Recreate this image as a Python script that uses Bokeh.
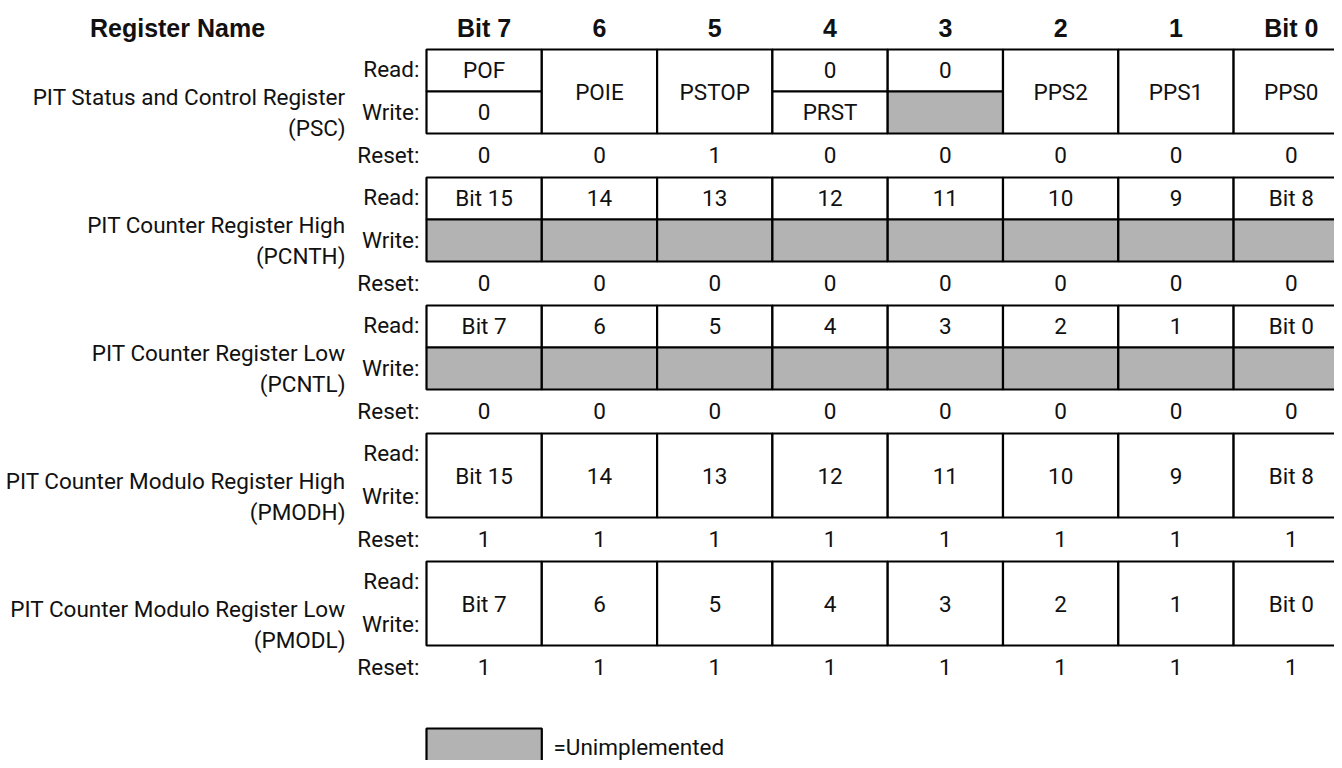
from bokeh.plotting import figure
from bokeh.models import Range1d, ColumnDataSource
from bokeh.core.properties import value
from bokeh.embed import file_html
from bokeh.resources import INLINE

# ---------------- data ----------------
bit_headers = ["Bit 7", "6", "5", "4", "3", "2", "1", "Bit 0"]
register_names = [
    "PIT Status and Control Register",
    "PIT Counter Register High",
    "PIT Counter Register Low",
    "PIT Counter Modulo Register High",
    "PIT Counter Modulo Register Low",
]
register_abbrevs = ["(PSC)", "(PCNTH)", "(PCNTL)", "(PMODH)", "(PMODL)"]

# read / write contents per bit (Bit 7 .. Bit 0); None = unimplemented,
# identical read & write text = one merged read/write cell
psc_read = ["POF", "POIE", "PSTOP", "0", "0", "PPS2", "PPS1", "PPS0"]
psc_write = ["0", "POIE", "PSTOP", "PRST", None, "PPS2", "PPS1", "PPS0"]
pcnth_read = ["Bit 15", "14", "13", "12", "11", "10", "9", "Bit 8"]
pcnth_write = [None, None, None, None, None, None, None, None]
pcntl_read = ["Bit 7", "6", "5", "4", "3", "2", "1", "Bit 0"]
pcntl_write = [None, None, None, None, None, None, None, None]
pmodh_read = ["Bit 15", "14", "13", "12", "11", "10", "9", "Bit 8"]
pmodh_write = ["Bit 15", "14", "13", "12", "11", "10", "9", "Bit 8"]
pmodl_read = ["Bit 7", "6", "5", "4", "3", "2", "1", "Bit 0"]
pmodl_write = ["Bit 7", "6", "5", "4", "3", "2", "1", "Bit 0"]

psc_reset = [0, 0, 1, 0, 0, 0, 0, 0]
pcnth_reset = [0, 0, 0, 0, 0, 0, 0, 0]
pcntl_reset = [0, 0, 0, 0, 0, 0, 0, 0]
pmodh_reset = [1, 1, 1, 1, 1, 1, 1, 1]
pmodl_reset = [1, 1, 1, 1, 1, 1, 1, 1]

reads = [psc_read, pcnth_read, pcntl_read, pmodh_read, pmodl_read]
writes = [psc_write, pcnth_write, pcntl_write, pmodh_write, pmodl_write]
resets = [psc_reset, pcnth_reset, pcntl_reset, pmodh_reset, pmodl_reset]

legend_label = "=Unimplemented"

# ---------------- layout (picture pixels) ----------------
W, H = 1334, 760
GRID_X0 = 426.0
COL_W = 115.3
REG_Y0 = 49.0
REG_STEP = 128.0
HALF_H = 42.0
RESET_DY = 105.0
HEADER_Y = 27.0
NAME_X = 345.0
RWR_X = 419.0
LEGEND_TOP = 728.0
LEGEND_TEXT_Y = 746.0
GREY = "#b3b3b3"
INK = "#111111"
FONT = value("Roboto")
BOLD_FONT = value("Liberation Sans")
FS = "22.5px"
BFS = "25px"

p = figure(width=W, height=H, output_backend="svg", toolbar_location=None,
           x_range=Range1d(0, W), y_range=Range1d(H, 0),
           x_axis_type=None, y_axis_type=None, min_border=0)
p.outline_line_color = None
p.grid.visible = False
p.background_fill_color = "white"
p.border_fill_color = "white"

cells = dict(left=[], right=[], top=[], bottom=[], color=[])
labels = dict(x=[], y=[], text=[])

for r in range(len(reads)):
    top = REG_Y0 + r * REG_STEP
    for c in range(len(bit_headers)):
        l = GRID_X0 + c * COL_W
        rr = l + COL_W
        xc = l + COL_W / 2
        rd, wr = reads[r][c], writes[r][c]
        if wr == rd:
            cells["left"].append(l); cells["right"].append(rr)
            cells["top"].append(top); cells["bottom"].append(top + 2 * HALF_H)
            cells["color"].append("white")
            labels["x"].append(xc); labels["y"].append(top + HALF_H)
            labels["text"].append(rd)
        else:
            cells["left"].append(l); cells["right"].append(rr)
            cells["top"].append(top); cells["bottom"].append(top + HALF_H)
            cells["color"].append("white")
            labels["x"].append(xc); labels["y"].append(top + HALF_H / 2 - 1)
            labels["text"].append(rd)
            cells["left"].append(l); cells["right"].append(rr)
            cells["top"].append(top + HALF_H); cells["bottom"].append(top + 2 * HALF_H)
            cells["color"].append(GREY if wr is None else "white")
            if wr is not None:
                labels["x"].append(xc); labels["y"].append(top + HALF_H * 1.5 - 1)
                labels["text"].append(wr)
        labels["x"].append(xc); labels["y"].append(top + RESET_DY)
        labels["text"].append(str(resets[r][c]))

p.quad(source=ColumnDataSource(cells), left="left", right="right", top="top",
       bottom="bottom", fill_color="color", line_color="black", line_width=2.2)

p.text(source=ColumnDataSource(labels), x="x", y="y", text="text",
       text_align="center", text_baseline="middle", text_font=FONT,
       text_font_size=FS, text_color=INK)

# bit headers
hx = [GRID_X0 + (c + 0.5) * COL_W for c in range(len(bit_headers))]
p.text(x=hx, y=[HEADER_Y] * len(hx), text=bit_headers, text_align="center",
       text_baseline="middle", text_font=BOLD_FONT, text_font_style="bold",
       text_font_size=BFS, text_color=INK)
p.text(x=[177], y=[HEADER_Y], text=["Register Name"], text_align="center",
       text_baseline="middle", text_font=BOLD_FONT, text_font_style="bold",
       text_font_size=BFS, text_color=INK)

# left labels
nx, ny, nt = [], [], []
rx, ry, rt = [], [], []
for r in range(len(register_names)):
    top = REG_Y0 + r * REG_STEP
    nx += [NAME_X, NAME_X]; ny += [top + 47, top + 78]
    nt += [register_names[r], register_abbrevs[r]]
    rx += [RWR_X] * 3; ry += [top + 19, top + 62, top + RESET_DY]
    rt += ["Read:", "Write:", "Reset:"]
p.text(x=nx, y=ny, text=nt, text_align="right", text_baseline="middle",
       text_font=FONT, text_font_size=FS, text_color=INK)
p.text(x=rx, y=ry, text=rt, text_align="right", text_baseline="middle",
       text_font=FONT, text_font_size=FS, text_color=INK)

# legend
p.quad(left=[GRID_X0], right=[GRID_X0 + COL_W], top=[LEGEND_TOP], bottom=[790],
       fill_color=GREY, line_color="black", line_width=2.2)
p.text(x=[553], y=[LEGEND_TEXT_Y], text=[legend_label], text_align="left",
       text_baseline="middle", text_font=FONT, text_font_size=FS,
       text_color=INK)

open("out.html", "w").write(file_html(p, INLINE))
